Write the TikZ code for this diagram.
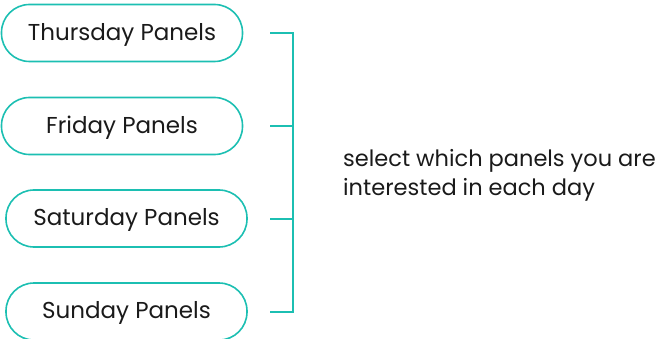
\documentclass[tikz,border=0pt]{standalone}
\usepackage{fontspec}
\setmainfont{Poppins}
\definecolor{teal1}{HTML}{1CBFB2}
\definecolor{txt}{HTML}{1A1A1A}
\begin{document}
\begin{tikzpicture}[x=1pt,y=-1pt,
  pill/.style={draw=teal1, line width=1.6pt, rounded corners=28pt, minimum width=241pt, minimum height=57pt, inner sep=0pt, text depth=3pt, text=txt, font=\fontsize{23}{27}\selectfont},
  brk/.style={draw=teal1, line width=1.8pt}]
\useasboundingbox (0,0) rectangle (671,339);
\node[pill] (thu) at (122,33) {Thursday Panels};
\node[pill] (fri) at (122,126) {Friday Panels};
\node[pill] (sat) at (126.5,218.5) {Saturday Panels};
\node[pill] (sun) at (126.5,311.5) {Sunday Panels};
\coordinate (s1) at (270,33);
\coordinate (s2) at (270,126);
\coordinate (s3) at (270,219);
\coordinate (s4) at (270,312);
\coordinate (b1) at (293,33);
\coordinate (b2) at (293,126);
\coordinate (b3) at (293,219);
\coordinate (b4) at (293,312);
\draw[brk] (s1) -- (b1) -- (b4) -- (s4);
\draw[brk] (s2) -- (b2);
\draw[brk] (s3) -- (b3);
\node[anchor=west, align=left, text=txt, inner sep=0pt, font=\fontsize{22.5}{29}\selectfont] (note) at (343,175) {select which panels you are\\interested in each day};
\end{tikzpicture}
\end{document}
